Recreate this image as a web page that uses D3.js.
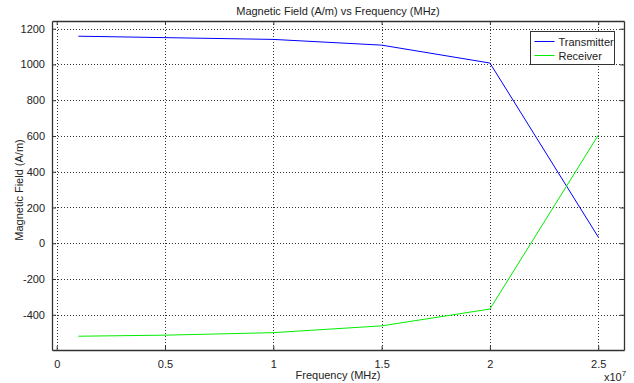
<!DOCTYPE html>
<html>
<head>
<meta charset="utf-8">
<script src="https://cdn.jsdelivr.net/npm/d3@7"></script>
<style>
  body { margin: 0; background: #fff; }
  text { font-family: "Liberation Sans", Arial, sans-serif; fill: #222; }
</style>
</head>
<body>
<div id="app"></div>
<script>
// data (frequency in Hz, field in A/m)
const frequency = [1e6, 5e6, 10e6, 15e6, 20e6, 25e6];
const transmitter = [1158, 1150, 1140, 1108, 1008, 35];
const receiver = [-520, -514, -500, -462, -368, 604];
const xTicks = [0, 0.5e7, 1e7, 1.5e7, 2e7, 2.5e7];
const yTicks = [-400, -200, 0, 200, 400, 600, 800, 1000, 1200];
const seriesNames = ["Transmitter", "Receiver"];
const seriesColors = ["#0000ff", "#00ee00"];

const W = 634, H = 383;
const m = { left: 52, top: 21, right: 10, bottom: 33 };

const svg = d3.select("#app").append("svg").attr("width", W).attr("height", H);

const x = d3.scaleLinear().domain([-0.0217e7, 2.619e7]).range([m.left, W - m.right]);
const y = d3.scaleLinear().domain([-597, 1243]).range([H - m.bottom, m.top]);

// grid
const grid = svg.append("g").attr("stroke", "#333").attr("stroke-width", 1)
  .attr("stroke-dasharray", "1,2");
grid.selectAll("line.gx").data(xTicks).enter().append("line")
  .attr("x1", d => Math.round(x(d)) + 0.5).attr("x2", d => Math.round(x(d)) + 0.5)
  .attr("y1", m.top).attr("y2", H - m.bottom);
grid.selectAll("line.gy").data(yTicks).enter().append("line")
  .attr("y1", d => Math.round(y(d)) + 0.5).attr("y2", d => Math.round(y(d)) + 0.5)
  .attr("x1", m.left).attr("x2", W - m.right);

// axes
const xAxis = svg.append("g").attr("transform", `translate(0,${H - m.bottom})`)
  .call(d3.axisBottom(x).tickValues(xTicks).tickSizeInner(-4).tickSizeOuter(0)
    .tickPadding(10).tickFormat(d => String(d / 1e7)));
const xTop = svg.append("g").attr("transform", `translate(0,${m.top})`)
  .call(d3.axisTop(x).tickValues(xTicks).tickSizeInner(-4).tickSizeOuter(0).tickFormat(""));
const yAxis = svg.append("g").attr("transform", `translate(${m.left},0)`)
  .call(d3.axisLeft(y).tickValues(yTicks).tickSizeInner(-4).tickSizeOuter(0).tickPadding(7)
    .tickFormat(d => String(d)));
const yRight = svg.append("g").attr("transform", `translate(${W - m.right},0)`)
  .call(d3.axisRight(y).tickValues(yTicks).tickSizeInner(-4).tickSizeOuter(0).tickFormat(""));

[xAxis, xTop, yAxis, yRight].forEach(g => {
  g.selectAll(".domain").attr("stroke", "#333").attr("stroke-width", 1.3);
  g.selectAll(".tick line").attr("stroke", "#333");
  g.selectAll(".tick text").attr("font-size", 11).attr("fill", "#222")
    .attr("font-family", "Liberation Sans, Arial, sans-serif");
});

// lines
const line = d3.line().x((d, i) => x(frequency[i])).y(d => y(d));
[transmitter, receiver].forEach((s, k) => {
  svg.append("path").datum(s).attr("d", line)
    .attr("fill", "none").attr("stroke", seriesColors[k]).attr("stroke-width", 1);
});

// titles
svg.append("text").attr("x", 338).attr("y", 15).attr("text-anchor", "middle")
  .attr("font-size", 11).text("Magnetic Field (A/m) vs Frequency (MHz)");
svg.append("text").attr("x", 338).attr("y", 379).attr("text-anchor", "middle")
  .attr("font-size", 11).text("Frequency (MHz)");
svg.append("text").attr("transform", "translate(23,190) rotate(-90)")
  .attr("text-anchor", "middle").attr("font-size", 11).text("Magnetic Field (A/m)");
const exp = svg.append("text").attr("x", 604).attr("y", 381).attr("font-size", 11);
exp.append("tspan").text("x10");
exp.append("tspan").attr("dy", -5).attr("font-size", 8).text("7");

// legend
const lg = svg.append("g").attr("transform", "translate(530.5,31.5)");
lg.append("rect").attr("width", 84).attr("height", 33)
  .attr("fill", "#fff").attr("stroke", "#333").attr("stroke-width", 1);
seriesNames.forEach((n, k) => {
  lg.append("line").attr("x1", 4).attr("x2", 24).attr("y1", 10 + k * 14).attr("y2", 10 + k * 14)
    .attr("stroke", seriesColors[k]);
  lg.append("text").attr("x", 28).attr("y", 14 + k * 14).attr("font-size", 11).text(n);
});
</script>
</body>
</html>
